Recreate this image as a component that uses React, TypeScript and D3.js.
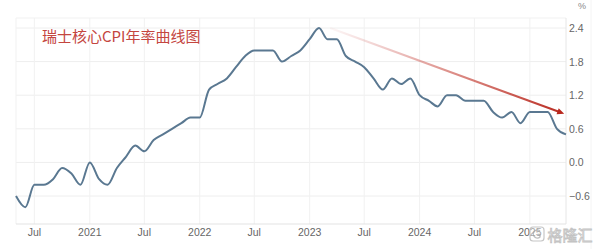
import React from "react";
import * as d3 from "d3";

const title = "瑞士核心CPI年率曲线图";
const startMonth = "2020-05";
const cpiValues = [
  -0.6, -0.8, -0.4, -0.4, -0.3, -0.1, -0.2, -0.4,
  0.0, -0.3, -0.4, -0.1, 0.1, 0.3, 0.2, 0.4, 0.5, 0.6, 0.7, 0.8,
  0.8, 1.3, 1.4, 1.5, 1.7, 1.9, 2.0, 2.0, 2.0, 1.8, 1.9, 2.0,
  2.2, 2.4, 2.2, 2.2, 1.9, 1.8, 1.7, 1.5, 1.3, 1.5, 1.4, 1.5,
  1.2, 1.1, 1.0, 1.2, 1.2, 1.1, 1.1, 1.1, 0.9, 0.8, 0.9, 0.7,
  0.9, 0.9, 0.9, 0.6, 0.5,
];
const yTicks = [-0.6, 0.0, 0.6, 1.2, 1.8, 2.4];
const xTickDates = [
  "2020-07-01", "2021-01-01", "2021-07-01", "2022-01-01", "2022-07-01",
  "2023-01-01", "2023-07-01", "2024-01-01", "2024-07-01", "2025-01-01",
];
const trendStart = { date: "2023-03-10", value: 2.4 };
const trendEnd = { date: "2025-04-25", value: 0.87 };

const W = 601;
const H = 249;
const left = 16;
const right = 566;
const top = 18;
const bottom = 224;

export default function App() {
  const parse = d3.timeParse("%Y-%m-%d");
  const start = d3.timeParse("%Y-%m")(startMonth) as Date;
  const data = cpiValues.map((v, i) => ({ date: d3.timeMonth.offset(start, i), value: v }));

  const x = d3
    .scaleTime()
    .domain([parse("2020-05-01") as Date, parse("2025-05-01") as Date])
    .range([left, right]);
  const y = d3.scaleLinear().domain([-0.6, 2.4]).range([196, 28]);

  const line = d3
    .line<{ date: Date; value: number }>()
    .x((d) => x(d.date))
    .y((d) => y(d.value))
    .curve(d3.curveMonotoneX);

  const fmtX = (d: Date) => (d.getMonth() === 0 ? d3.timeFormat("%Y")(d) : "Jul");
  const ticks = xTickDates.map((s) => parse(s) as Date);

  const ax1 = x(parse(trendStart.date) as Date);
  const ay1 = y(trendStart.value);
  const ax2 = x(parse(trendEnd.date) as Date);
  const ay2 = y(trendEnd.value);
  const ang = Math.atan2(ay2 - ay1, ax2 - ax1);
  const hl = 7;
  const hw = 3.2;
  const headPts = [
    [ax2, ay2],
    [ax2 - hl * Math.cos(ang) + hw * Math.sin(ang), ay2 - hl * Math.sin(ang) - hw * Math.cos(ang)],
    [ax2 - hl * Math.cos(ang) - hw * Math.sin(ang), ay2 - hl * Math.sin(ang) + hw * Math.cos(ang)],
  ]
    .map((p) => p.join(","))
    .join(" ");

  const font = "'Liberation Sans', Arial, sans-serif";

  return (
    <svg
      width={W}
      height={H}
      style={{ position: "fixed", left: 0, top: 0, background: "#fff" }}
    >
      <defs>
        <linearGradient id="arrowGrad" gradientUnits="userSpaceOnUse" x1={ax1} y1={ay1} x2={ax2} y2={ay2}>
          <stop offset="0" stopColor="#d06060" stopOpacity={0.05} />
          <stop offset="0.5" stopColor="#c84a40" stopOpacity={0.6} />
          <stop offset="1" stopColor="#b8281e" stopOpacity={1} />
        </linearGradient>
      </defs>
      <rect x={0} y={0} width={W} height={H} fill="#fff" />
      {/* horizontal grid */}
      <line x1={left} x2={right} y1={top} y2={top} stroke="#f1f1f1" />
      {yTicks.map((t) => (
        <line key={t} x1={left} x2={right} y1={y(t)} y2={y(t)} stroke="#eeeeee" />
      ))}
      {/* vertical grid */}
      <line x1={left} x2={left} y1={top} y2={bottom} stroke="#f1f1f1" />
      {ticks.map((t, i) => (
        <line key={i} x1={x(t)} x2={x(t)} y1={top} y2={bottom} stroke="#f1f1f1" />
      ))}
      <line x1={right} x2={right} y1={top} y2={bottom} stroke="#e6e6e6" />
      <line x1={591} x2={591} y1={0} y2={H} stroke="#f4f4f4" />
      <line x1={left} x2={right} y1={bottom} y2={bottom} stroke="#e3e3e3" />

      {/* y labels */}
      {yTicks.map((t) => (
        <text key={t} x={569} y={y(t) + 4} fontSize={10.5} fill="#666" fontFamily={font}>
          {d3.format(".1f")(t)}
        </text>
      ))}
      <text x={578} y={9} fontSize={9} fill="#888" fontFamily={font}>%</text>

      {/* x labels */}
      {ticks.map((t, i) => (
        <text key={i} x={x(t)} y={235.5} fontSize={10.5} fill="#666" textAnchor="middle" fontFamily={font}>
          {fmtX(t)}
        </text>
      ))}

      {/* title */}
      <text x={42} y={41.5} fontSize={15} fill="#c4463f" fontFamily="'Noto Sans CJK SC', sans-serif">
        {title}
      </text>

      {/* trend arrow */}
      <line x1={ax1} y1={ay1} x2={ax2 - hl * 0.7 * Math.cos(ang)} y2={ay2 - hl * 0.7 * Math.sin(ang)} stroke="url(#arrowGrad)" strokeWidth={2} />
      <polygon points={headPts} fill="#b8281e" />

      {/* data line */}
      <path d={line(data) || ""} fill="none" stroke="#5a7891" strokeWidth={2} strokeLinejoin="round" />

      {/* watermark */}
      <g opacity={0.8}>
        <rect x={530} y={227} width={14} height={14} rx={3} fill="#fff" fillOpacity={0.55} stroke="#b9b9b9" strokeWidth={1.2} />
        <path d="M540,231 A4,4 0 1 0 540,237 L540,234.5 L537.5,234.5" fill="none" stroke="#b0b0b0" strokeWidth={1.4} />
        <text x={547.5} y={240.5} fontSize={15} fill="#f3f3f3" stroke="#b5b5b5" strokeWidth={0.8} fontFamily="'Noto Sans CJK SC', sans-serif">
          格隆汇
        </text>
      </g>
    </svg>
  );
}
